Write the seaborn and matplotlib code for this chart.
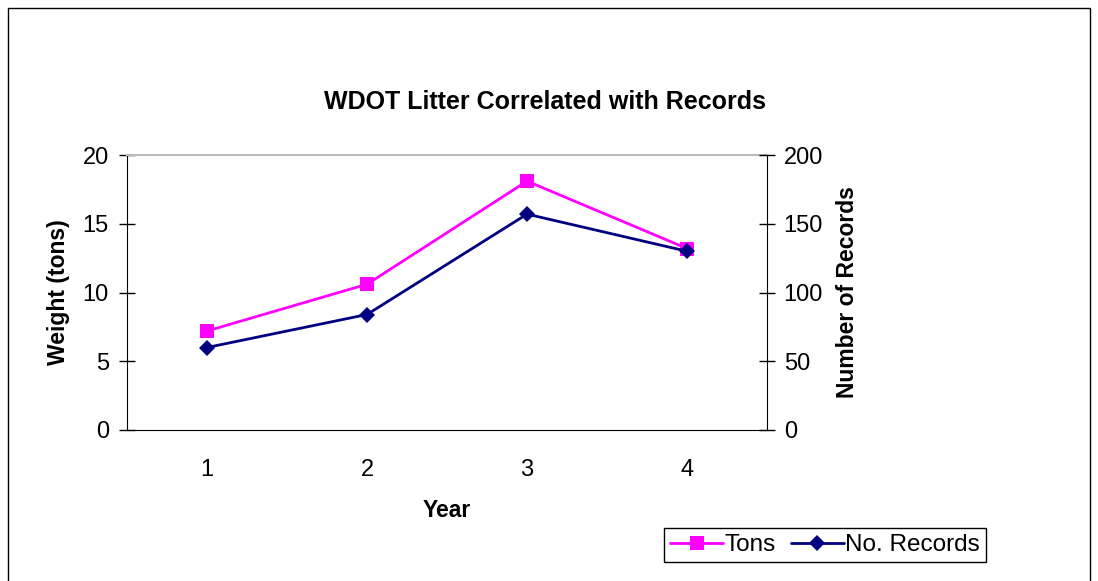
import numpy as np
import matplotlib
matplotlib.use("Agg")
import matplotlib.pyplot as plt
from matplotlib.lines import Line2D
import seaborn as sns
import pandas as pd

years = ["1", "2", "3", "4"]
tons = [7.2, 10.6, 18.1, 13.2]
records = [60, 84, 157, 130]

sns.set_style("white")
plt.rcParams['font.family'] = ['Liberation Sans', 'DejaVu Sans']
plt.rcParams['text.color'] = 'black'
plt.rcParams['axes.labelcolor'] = 'black'
plt.rcParams['xtick.color'] = 'black'
plt.rcParams['ytick.color'] = 'black'

data = pd.DataFrame({'Year': np.arange(len(years)), 'Tons': tons, 'Records': records})

fig = plt.figure(figsize=(10.98, 5.81), dpi=100)
ax = fig.add_axes([127 / 1098, 1 - 430 / 581, 640 / 1098, 275 / 581])
ax2 = ax.twinx()

sq = dict(color='#FF00FF', marker='s', markersize=10, markeredgewidth=0, linewidth=2)
di = dict(color='#000080', marker='D', markersize=8, markeredgewidth=0, linewidth=2)

sns.lineplot(x='Year', y='Tons', data=data, ax=ax, zorder=3, **sq)
sns.lineplot(x='Year', y='Records', data=data, ax=ax2, zorder=4, **di)

ax.set_xlim(-0.5, len(years) - 0.5)
ax.set_ylim(0, 20)
ax2.set_ylim(0, 200)
ax.set_yticks([0, 5, 10, 15, 20])
ax2.set_yticks([0, 50, 100, 150, 200])

# category boundaries as major ticks, labels centered as minor
ax.set_xticks(np.arange(-0.5, len(years), 1.0))
ax.set_xticklabels([])
ax.set_xticks(np.arange(len(years)), minor=True)
ax.set_xticklabels(years, minor=True)
ax.tick_params(axis='x', which='minor', length=0, pad=21, labelsize=17)
ax.tick_params(axis='x', which='major', direction='inout', length=12, width=1, color='black')
ax.tick_params(axis='y', direction='inout', length=12, width=1, color='black', labelsize=17, pad=7)
ax2.tick_params(axis='y', direction='inout', length=12, width=1, color='black', labelsize=17, pad=6)

for a in (ax, ax2):
    for s in a.spines.values():
        s.set_visible(False)
ax.spines['left'].set_visible(True)
ax.spines['left'].set_color('black')
ax.spines['bottom'].set_visible(True)
ax.spines['bottom'].set_color('black')
ax2.spines['right'].set_visible(True)
ax2.spines['right'].set_color('black')
ax.spines['top'].set_visible(True)
ax.spines['top'].set_color('#BBBBBB')
ax.spines['top'].set_linewidth(1.5)

ax.set_xlabel('Year', fontsize=16.5, fontweight='bold', labelpad=13)
ax.set_ylabel('Weight (tons)', fontsize=16.5, fontweight='bold', labelpad=9)
ax2.set_ylabel('Number of Records', fontsize=16.5, fontweight='bold', labelpad=9)
ax.set_title('WDOT Litter Correlated with Records', fontsize=18, fontweight='bold', pad=33,
             x=(545 - 127) / 640)
ax.grid(False)
ax2.grid(False)

handles = [Line2D([], [], **sq), Line2D([], [], **di)]
leg = fig.legend(handles, ['Tons', 'No. Records'], loc='center', ncol=2,
                 bbox_to_anchor=(825 / 1098, 1 - 545 / 581), fontsize=17.5, frameon=True,
                 fancybox=False, edgecolor='black', handlelength=2.2, handletextpad=0.05,
                 columnspacing=0.6, borderpad=0.25, framealpha=1)
leg.get_frame().set_linewidth(1)

# outer chart border
fig.add_artist(Line2D([8 / 1098, 8 / 1098, 1090 / 1098, 1090 / 1098],
                      [0, 1 - 8 / 581, 1 - 8 / 581, 0], color='black', linewidth=1,
                      transform=fig.transFigure))

fig.savefig('out.png', dpi=100)
